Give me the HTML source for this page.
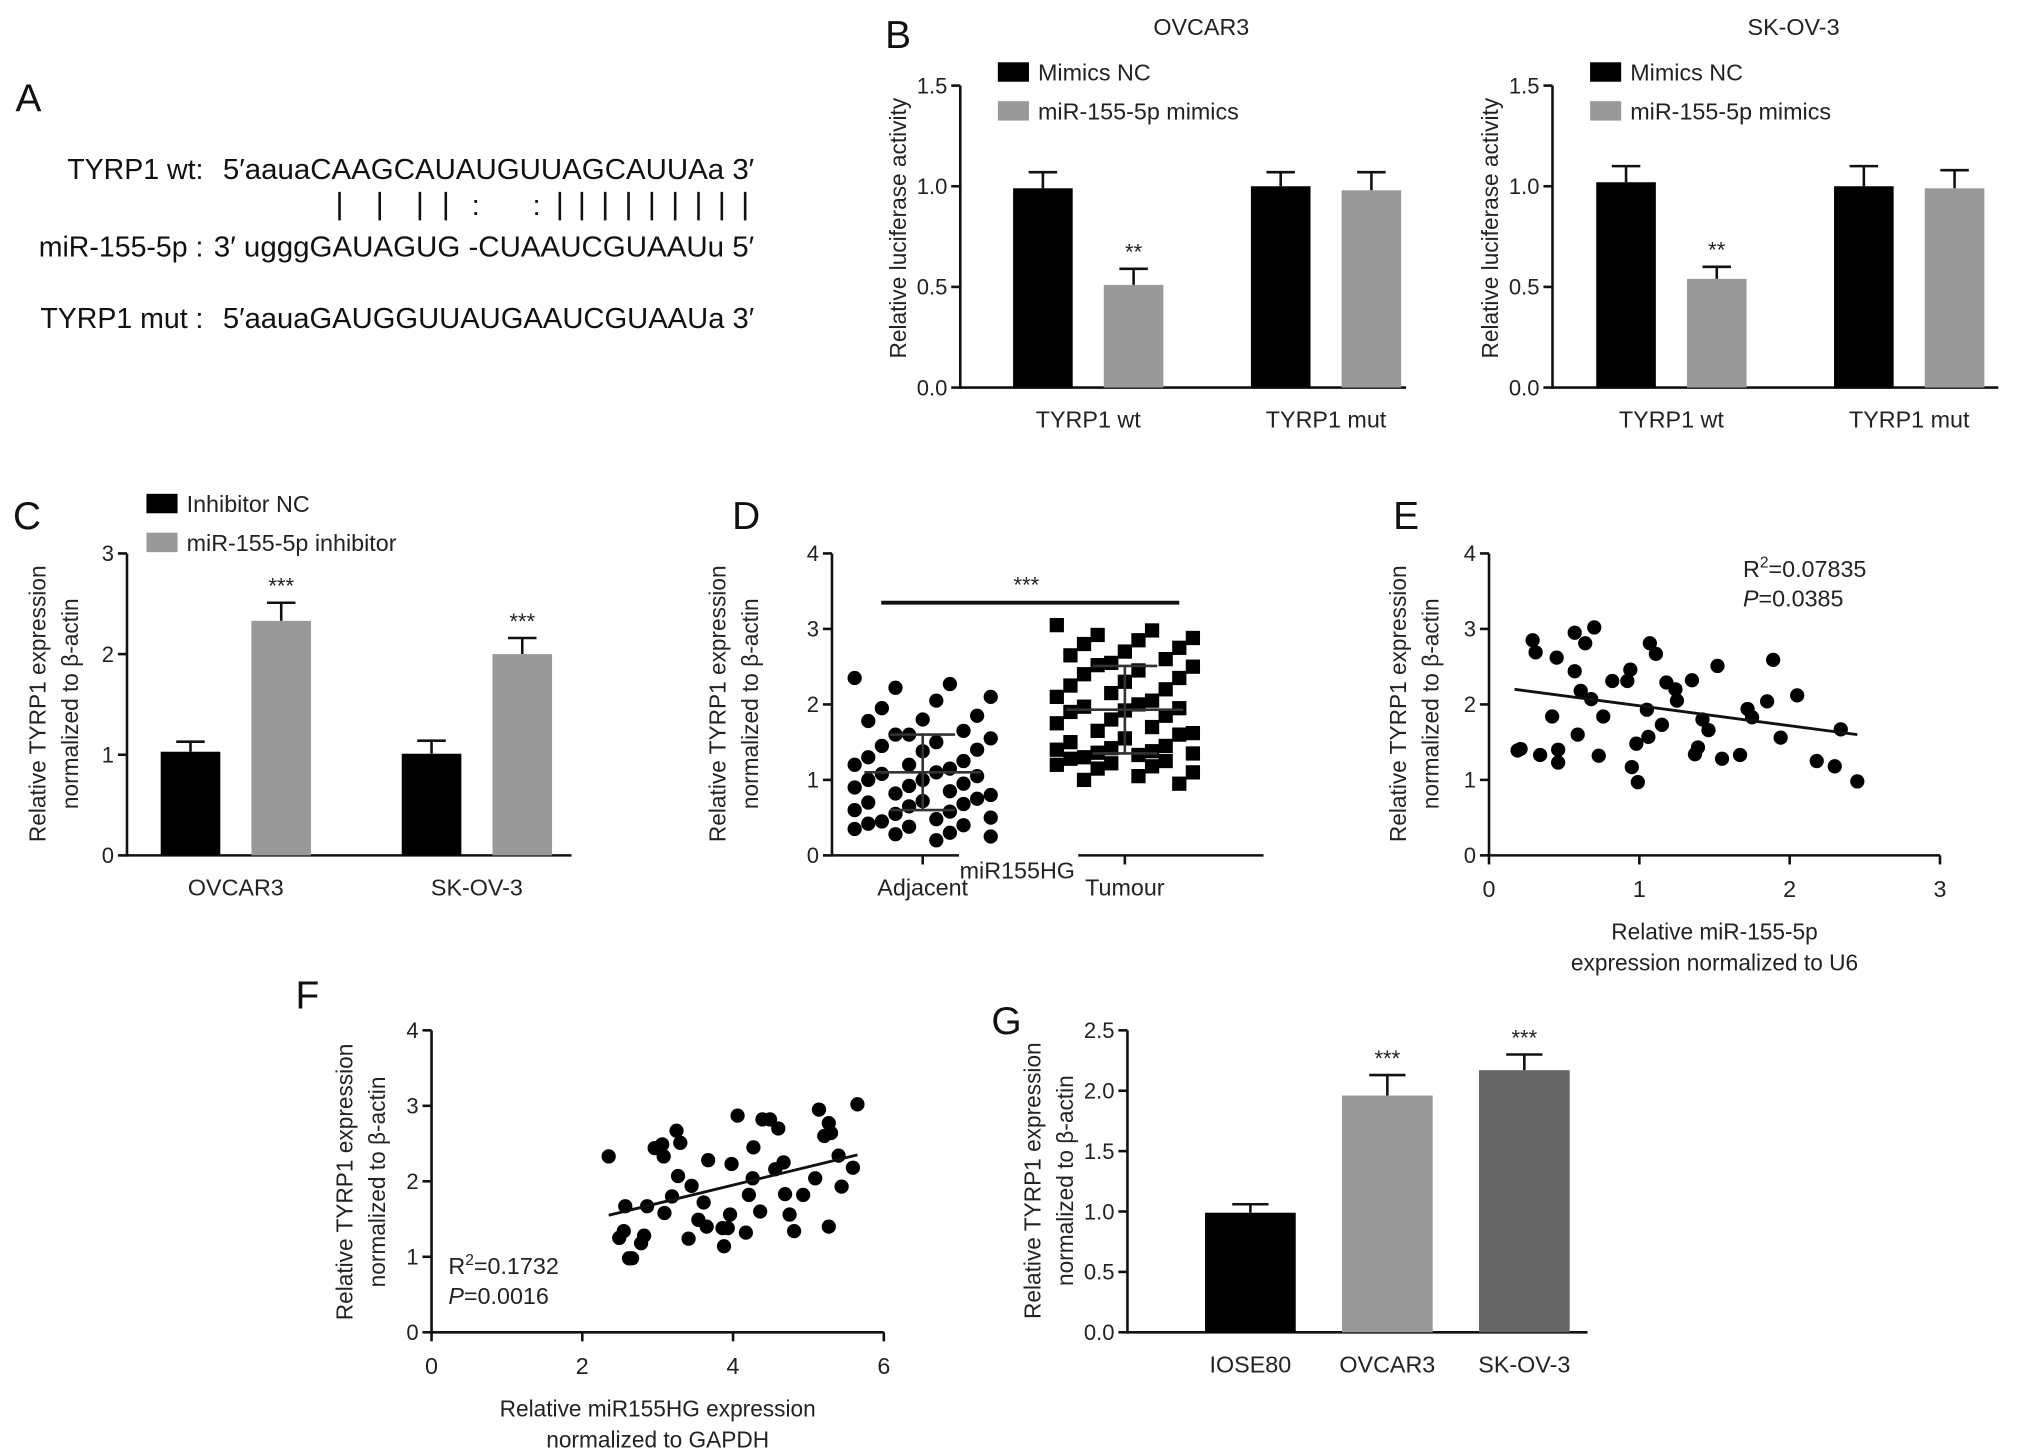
<!DOCTYPE html>
<html><head><meta charset="utf-8"><style>
html,body{margin:0;padding:0;background:#fff;}
svg{display:block;font-family:"Liberation Sans",Arial,sans-serif;}
</style></head><body>
<svg id="fig" width="2032" height="1449" viewBox="0 0 1568 1118" xmlns="http://www.w3.org/2000/svg">
<g font-size="22" fill="#111">
<text x="12" y="86" font-size="30">A</text>
<text x="157" y="138" text-anchor="end">TYRP1 wt:</text>
<text x="172" y="138" textLength="410" lengthAdjust="spacingAndGlyphs">5′aauaCAAGCAUAUGUUAGCAUUAa 3′</text>
<text x="157" y="198" text-anchor="end">miR-155-5p :</text>
<text x="165" y="198" textLength="417" lengthAdjust="spacingAndGlyphs">3′ ugggGAUAGUG -CUAAUCGUAAUu 5′</text>
<text x="157" y="253" text-anchor="end">TYRP1 mut :</text>
<text x="172" y="253" textLength="410" lengthAdjust="spacingAndGlyphs">5′aauaGAUGGUUAUGAAUCGUAAUa 3′</text>
<g stroke="#111" stroke-width="2">
<line x1="262" y1="148" x2="262" y2="170"/><line x1="293" y1="148" x2="293" y2="170"/>
<line x1="324" y1="148" x2="324" y2="170"/><line x1="344" y1="148" x2="344" y2="170"/>
<line x1="432" y1="148" x2="432" y2="170"/><line x1="449" y1="148" x2="449" y2="170"/>
<line x1="467" y1="148" x2="467" y2="170"/><line x1="485" y1="148" x2="485" y2="170"/>
<line x1="503" y1="148" x2="503" y2="170"/><line x1="521" y1="148" x2="521" y2="170"/>
<line x1="539" y1="148" x2="539" y2="170"/><line x1="557" y1="148" x2="557" y2="170"/>
<line x1="575" y1="148" x2="575" y2="170"/>
</g>
<text x="364" y="166">:</text>
<text x="411" y="166">:</text>
</g>
</svg>
<script>
const SVG='http://www.w3.org/2000/svg';
const fig=document.getElementById('fig');
function mk(parent,tag,attrs,name,inter){
  const el=document.createElementNS(SVG,tag);
  for(const k in attrs) el.setAttribute(k,attrs[k]);
  
  
  parent.appendChild(el);return el;
}
function txt(parent,x,y,s,name,extra){
  const a=Object.assign({x:x,y:y,'font-size':17,fill:'#222'},extra||{});
  const t=mk(parent,'text',a,name,false);t.textContent=s;return t;
}

// ---------- data ----------
const bCategories=['TYRP1 wt','TYRP1 mut'];
const bSeries=['Mimics NC','miR-155-5p mimics'];
const ovcarNC=[0.99,1.00];
const ovcarMimic=[0.51,0.98];
const ovcarNCErr=[0.08,0.07];
const ovcarMimicErr=[0.08,0.09];
const skovNC=[1.02,1.00];
const skovMimic=[0.54,0.99];
const skovNCErr=[0.08,0.10];
const skovMimicErr=[0.06,0.09];
const bTicks=[0,0.5,1.0,1.5];
const bTickLabels=['0.0','0.5','1.0','1.5'];

const cCategories=['OVCAR3','SK-OV-3'];
const cSeries=['Inhibitor NC','miR-155-5p inhibitor'];
const cNC=[1.03,1.01];
const cInh=[2.33,2.00];
const cNCErr=[0.10,0.13];
const cInhErr=[0.18,0.16];
const cTicks=[0,1,2,3];

const dAdjacent=[2.35,2.27,2.22,2.1,2.05,1.95,1.85,1.8,1.78,1.65,1.6,1.6,1.55,1.5,1.45,1.4,1.38,1.3,1.25,1.2,1.2,1.15,1.1,1.08,1.05,1.0,1.0,0.95,0.92,0.9,0.85,0.82,0.8,0.75,0.72,0.7,0.68,0.65,0.6,0.58,0.55,0.5,0.48,0.45,0.42,0.4,0.38,0.35,0.3,0.28,0.25,0.2];
const dTumour=[3.05,2.98,2.92,2.88,2.85,2.8,2.75,2.7,2.65,2.6,2.55,2.52,2.5,2.45,2.4,2.35,2.3,2.25,2.2,2.15,2.1,2.05,2.0,1.97,1.95,1.92,1.9,1.85,1.8,1.75,1.7,1.65,1.62,1.6,1.55,1.5,1.45,1.42,1.4,1.38,1.36,1.35,1.33,1.3,1.28,1.25,1.22,1.2,1.18,1.15,1.1,1.05,1.0,0.95];
const dStats=[[1.1,0.5],[1.93,0.58]];
const dTicks=[0,1,2,3,4];

const eX=[0.19,0.21,0.29,0.31,0.34,0.45,0.42,0.46,0.46,0.57,0.64,0.70,0.57,0.61,0.68,0.59,0.73,0.76,0.82,0.92,0.94,0.95,0.99,0.98,1.05,1.06,1.07,1.11,1.15,1.18,1.24,1.25,1.35,1.37,1.39,1.42,1.46,1.52,1.55,1.67,1.72,1.75,1.85,1.89,1.94,2.05,2.18,2.30,2.34,2.45];
const eY=[1.39,1.41,2.85,2.69,1.33,2.62,1.84,1.40,1.23,2.95,2.81,3.02,2.44,2.18,2.07,1.60,1.32,1.84,2.31,2.31,2.46,1.17,0.97,1.48,1.93,1.57,2.81,2.67,1.73,2.29,2.20,2.05,2.32,1.34,1.43,1.80,1.66,2.51,1.28,1.33,1.94,1.83,2.04,2.59,1.56,2.12,1.25,1.18,1.67,0.98];
const eFit=[[0.17,2.2],[2.45,1.6]];

const fX=[2.35,2.49,2.55,2.57,2.62,2.66,2.78,2.82,2.86,2.96,3.06,3.08,3.09,3.19,3.25,3.30,3.27,3.41,3.45,3.54,3.61,3.65,3.67,3.86,3.88,3.93,3.96,3.98,4.06,4.17,4.21,4.26,4.27,4.36,4.39,4.49,4.56,4.60,4.67,4.69,4.75,4.81,4.93,5.09,5.14,5.21,5.27,5.30,5.27,5.40,5.44,5.59,5.65];
const fY=[2.33,1.25,1.34,1.67,0.98,0.98,1.18,1.28,1.67,2.44,2.49,2.33,1.58,1.80,2.67,2.51,2.07,1.24,1.94,1.49,1.72,1.40,2.28,1.38,1.14,1.38,1.56,2.23,2.87,1.32,1.82,2.04,2.45,1.60,2.82,2.82,2.16,2.70,2.25,1.83,1.56,1.34,1.82,2.04,2.95,2.60,2.77,2.64,1.40,2.34,1.93,2.18,3.02];
const fFit=[[2.35,1.55],[5.65,2.35]];

const gCategories=['IOSE80','OVCAR3','SK-OV-3'];
const gValues=[0.99,1.96,2.17];
const gErr=[0.07,0.17,0.13];
const gTicks=[0,0.5,1.0,1.5,2.0,2.5];
const gTickLabels=['0.0','0.5','1.0','1.5','2.0','2.5'];

// ---------- helpers ----------
function linScale(d0,d1,r0,r1){return v=>r0+(v-d0)/(d1-d0)*(r1-r0);}
function yAxis(g,x,y,ticks,labels,name){
  mk(g,'line',{x1:x,y1:y(ticks[0])+1,x2:x,y2:y(ticks[ticks.length-1]),stroke:'#111','stroke-width':2},name+'-line',false);
  ticks.forEach((t,i)=>{
    mk(g,'line',{x1:x-7,y1:y(t),x2:x,y2:y(t),stroke:'#111','stroke-width':2},name+'-tick',false);
    txt(g,x-10,y(t)+6,labels[i],name+'-tick-label',{'text-anchor':'end'});
  });
}
function yTitle(g,x,cy,lines,name){
  lines.forEach((s,i)=>{
    txt(g,0,0,s,name,{'text-anchor':'middle','font-size':17.5,transform:'translate('+(x+i*25)+','+cy+') rotate(-90)'});
  });
}
function bars(g,y,x0,band,cats,seriesVals,seriesErr,colors,bw,gap,stars,name){
  const y0=y(0);
  cats.forEach((c,i)=>{
    const cx=x0+band*(i+0.5);
    const n=seriesVals.length;
    const total=n*bw+(n-1)*gap;
    seriesVals.forEach((vals,s)=>{
      const bx=cx-total/2+s*(bw+gap);
      const v=vals[i],e=seriesErr[s][i];
      mk(g,'line',{x1:bx+bw/2,y1:y(v),x2:bx+bw/2,y2:y(v+e),stroke:'#111','stroke-width':2},name+'-error-bar',false);
      mk(g,'line',{x1:bx+bw/2-11,y1:y(v+e),x2:bx+bw/2+11,y2:y(v+e),stroke:'#111','stroke-width':2},name+'-error-cap',false);
      mk(g,'rect',{x:bx,y:y(v),width:bw,height:y0-y(v),fill:colors[s]},name+'-bar',true);
      const st=stars[s]&&stars[s][i];
      if(st) txt(g,bx+bw/2,y(v+e)-7,st,name+'-significance',{'text-anchor':'middle','font-size':17});
    });
    txt(g,cx,y0+31,c,name+'-x-label',{'text-anchor':'middle','font-size':18});
  });
}
function legend(g,x,y,labels,colors,name){
  labels.forEach((l,i)=>{
    mk(g,'rect',{x:x,y:y+i*30-8,width:24,height:15,fill:colors[i]},name+'-swatch',false);
    txt(g,x+31,y+i*30+6,l,name+'-entry',{'font-size':18});
  });
}

// ---------- Panel B ----------
function panelB(ox,title,nc,mi,ncE,miE,name,bandX0){
  const g=mk(fig,'g',{},name,false);
  const y=linScale(0,1.5,299,66);
  yAxis(g,ox,y,bTicks,bTickLabels,name+'-y-axis');
  mk(g,'line',{x1:ox,y1:299,x2:ox+344,y2:299,stroke:'#111','stroke-width':2},name+'-x-axis',false);
  bars(g,y,bandX0,183.5,bCategories,[nc,mi],[ncE,miE],['#000','#999'],46,24,[null,['**',null]],name);
  txt(g,ox+186,27,title,name+'-title',{'text-anchor':'middle','font-size':18});
  legend(g,ox+29,56,bSeries,['#000','#999'],name+'-legend');
  yTitle(g,ox-42,176,['Relative luciferase activity'],name+'-y-title');
}
txt(fig,683,37,'B','panel-b-label',{'font-size':30,fill:'#111'});
panelB(741,'OVCAR3',ovcarNC,ovcarMimic,ovcarNCErr,ovcarMimicErr,'panel-b-ovcar3',748);
panelB(1198,'SK-OV-3',skovNC,skovMimic,skovNCErr,skovMimicErr,'panel-b-skov3',1198);

// ---------- Panel C ----------
(function(){
  const g=mk(fig,'g',{},'panel-c',false);
  txt(g,10,408,'C','panel-c-label',{'font-size':30,fill:'#111'});
  const y=linScale(0,3,660,427);
  yAxis(g,98,y,cTicks,cTicks.map(String),'panel-c-y-axis');
  mk(g,'line',{x1:98,y1:660,x2:441,y2:660,stroke:'#111','stroke-width':2},'panel-c-x-axis',false);
  bars(g,y,89,186,cCategories,[cNC,cInh],[cNCErr,cInhErr],['#000','#999'],46,24,[null,['***','***']],'panel-c');
  legend(g,113,389,cSeries,['#000','#999'],'panel-c-legend');
  yTitle(g,35,543,['Relative TYRP1 expression','normalized to β-actin'],'panel-c-y-title');
})();

// ---------- Panel D ----------
(function(){
  const g=mk(fig,'g',{},'panel-d',false);
  txt(g,565,408,'D','panel-d-label',{'font-size':30,fill:'#111'});
  const y=linScale(0,4,660,427);
  yAxis(g,642,y,dTicks,dTicks.map(String),'panel-d-y-axis');
  mk(g,'line',{x1:642,y1:660,x2:740,y2:660,stroke:'#111','stroke-width':2},'panel-d-x-axis-left',false);
  mk(g,'line',{x1:832,y1:660,x2:975,y2:660,stroke:'#111','stroke-width':2},'panel-d-x-axis-right',false);
  mk(g,'line',{x1:712,y1:660,x2:712,y2:667,stroke:'#111','stroke-width':2},'panel-d-x-tick',false);
  mk(g,'line',{x1:868,y1:660,x2:868,y2:667,stroke:'#111','stroke-width':2},'panel-d-x-tick',false);
  const centers=[712,868];
  [dAdjacent,dTumour].forEach((arr,gi)=>{
    arr.forEach((v,i)=>{
      const off=(((i*7+Math.floor(i/11)*3)%11)-5)*10.5;
      const cx=centers[gi]+off, cy=y(v);
      if(gi===0) mk(g,'circle',{cx:cx,cy:cy,r:5.5,fill:'#000'},'adjacent-point',false);
      else mk(g,'rect',{x:cx-5.5,y:cy-5.5,width:11,height:11,fill:'#000'},'tumour-point',false);
    });
    const m=dStats[gi][0],sd=dStats[gi][1],cx=centers[gi];
    mk(g,'line',{x1:cx-45,y1:y(m),x2:cx+45,y2:y(m),stroke:'#333','stroke-width':2},'mean-line',false);
    mk(g,'line',{x1:cx,y1:y(m-sd),x2:cx,y2:y(m+sd),stroke:'#333','stroke-width':2},'sd-line',false);
    mk(g,'line',{x1:cx-25,y1:y(m+sd),x2:cx+25,y2:y(m+sd),stroke:'#333','stroke-width':2},'sd-cap',false);
    mk(g,'line',{x1:cx-25,y1:y(m-sd),x2:cx+25,y2:y(m-sd),stroke:'#333','stroke-width':2},'sd-cap',false);
  });
  mk(g,'line',{x1:680,y1:465,x2:910,y2:465,stroke:'#111','stroke-width':3},'significance-line',false);
  txt(g,792,457,'***','panel-d-significance',{'text-anchor':'middle'});
  txt(g,712,691,'Adjacent','panel-d-x-label',{'text-anchor':'middle','font-size':18});
  txt(g,868,691,'Tumour','panel-d-x-label',{'text-anchor':'middle','font-size':18});
  txt(g,785,678,'miR155HG','panel-d-group-label',{'text-anchor':'middle','font-size':18});
  yTitle(g,560,543,['Relative TYRP1 expression','normalized to β-actin'],'panel-d-y-title');
})();

// ---------- scatter ----------
function scatter(name,ox,oy,x1,y1,xmax,xTicks,xs,ys,fit,stats,sx,sy,xt,yt,ycx){
  const g=mk(fig,'g',{},name,false);
  const x=linScale(0,xmax,ox,x1), y=linScale(0,4,oy,y1);
  yAxis(g,ox,y,[0,1,2,3,4],['0','1','2','3','4'],name+'-y-axis');
  mk(g,'line',{x1:ox,y1:oy,x2:x(xmax),y2:oy,stroke:'#111','stroke-width':2},name+'-x-axis',false);
  xTicks.forEach(t=>{
    mk(g,'line',{x1:x(t),y1:oy,x2:x(t),y2:oy+7,stroke:'#111','stroke-width':2},name+'-x-tick',false);
    txt(g,x(t),oy+32,String(t),name+'-x-tick-label',{'text-anchor':'middle','font-size':18});
  });
  xs.forEach((v,i)=>mk(g,'circle',{cx:x(v),cy:y(ys[i]),r:5.5,fill:'#000'},name+'-point',false));
  mk(g,'line',{x1:x(fit[0][0]),y1:y(fit[0][1]),x2:x(fit[1][0]),y2:y(fit[1][1]),stroke:'#111','stroke-width':2.2},name+'-fit-line',false);
  const r=txt(g,sx,sy,'R','r-squared',{'font-size':18});
  const sup=mk(r,'tspan',{dy:-7,'font-size':12},'r-sup',false);sup.textContent='2';
  const rest=mk(r,'tspan',{dy:7},'r-value',false);rest.textContent='='+stats[0];
  const p=txt(g,sx,sy+23,'','p-value',{'font-size':18});
  const pi=mk(p,'tspan',{'font-style':'italic'},'p-italic',false);pi.textContent='P';
  const pv=mk(p,'tspan',{},'p-number',false);pv.textContent='='+stats[1];
  xt.forEach((s,i)=>txt(g,(ox+x(xmax))/2,oy+65+i*24,s,name+'-x-title',{'text-anchor':'middle','font-size':17.5}));
  yTitle(g,yt,ycx,['Relative TYRP1 expression','normalized to β-actin'],name+'-y-title');
  return g;
}
txt(fig,1075,408,'E','panel-e-label',{'font-size':30,fill:'#111'});
scatter('panel-e',1149,660,1497,427,3,[0,1,2,3],eX,eY,eFit,['0.07835','0.0385'],1345,445,['Relative miR-155-5p','expression normalized to U6'],1085,543);
txt(fig,228,778,'F','panel-f-label',{'font-size':30,fill:'#111'});
scatter('panel-f',333,1028,682,795,6,[0,2,4,6],fX,fY,fFit,['0.1732','0.0016'],346,983,['Relative miR155HG expression','normalized to GAPDH'],272,912);

// ---------- Panel G ----------
(function(){
  const g=mk(fig,'g',{},'panel-g',false);
  txt(g,765,798,'G','panel-g-label',{'font-size':30,fill:'#111'});
  const y=linScale(0,2.5,1028,795);
  yAxis(g,870,y,gTicks,gTickLabels,'panel-g-y-axis');
  mk(g,'line',{x1:870,y1:1028,x2:1225,y2:1028,stroke:'#111','stroke-width':2},'panel-g-x-axis',false);
  const colors=['#000','#999','#666'];
  gCategories.forEach((c,i)=>{
    const cx=912+105.7*(i+0.5),bw=70,v=gValues[i],e=gErr[i];
    mk(g,'line',{x1:cx,y1:y(v),x2:cx,y2:y(v+e),stroke:'#111','stroke-width':2},'panel-g-error-bar',false);
    mk(g,'line',{x1:cx-14,y1:y(v+e),x2:cx+14,y2:y(v+e),stroke:'#111','stroke-width':2},'panel-g-error-cap',false);
    mk(g,'rect',{x:cx-bw/2,y:y(v),width:bw,height:1028-y(v),fill:colors[i]},'panel-g-bar',true);
    if(i>0) txt(g,cx,y(v+e)-7,'***','panel-g-significance',{'text-anchor':'middle'});
    txt(g,cx,1059,c,'panel-g-x-label',{'text-anchor':'middle','font-size':18});
  });
  yTitle(g,803,911,['Relative TYRP1 expression','normalized to β-actin'],'panel-g-y-title');
})();
</script>
</body></html>
